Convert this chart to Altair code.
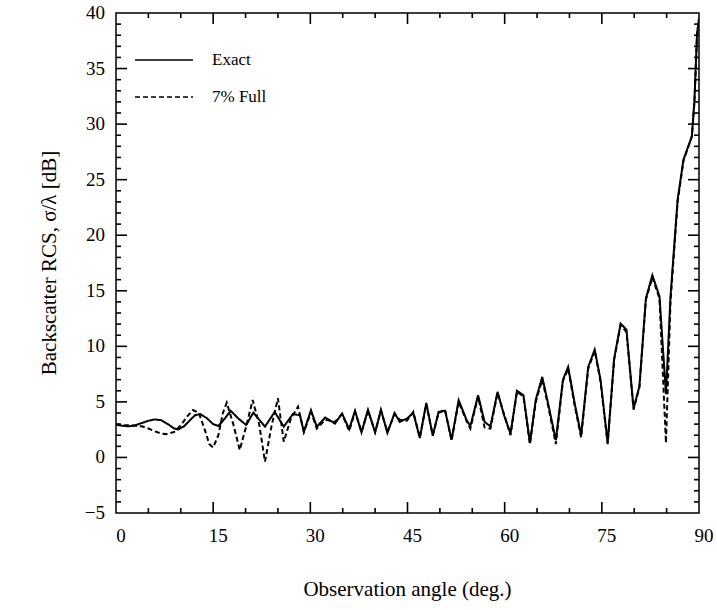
import altair as alt
import pandas as pd

# ---- data ----
exact_deg = [0, 1, 2, 3, 4, 5, 6, 7, 8, 9, 9.6, 10.5, 11.5, 12.2, 13, 14, 15, 15.8, 16.8, 17.7,
             18.9, 20.1, 21.2, 23, 24.5, 25.9, 27.3, 28.4, 29, 30.1, 31, 32.3, 33.8, 34.9, 36,
             36.9, 37.9, 38.9, 40, 40.9, 41.9, 43, 43.8, 44.9, 45.9, 46.9, 47.9, 48.9, 49.8,
             50.8, 51.8, 52.9, 54.1, 54.7, 55.9, 56.9, 57.8, 58.9, 59.9, 60.9, 61.9, 62.9,
             63.9, 64.8, 65.8, 66.8, 67.9, 69.0, 69.8, 70.8, 71.8, 72.9, 73.9, 74.8, 75.9,
             76.9, 77.9, 78.8, 79.9, 80.8, 81.8, 82.8, 83.9, 84.9, 85.6, 86.7, 87.6, 88.9,
             89.3, 89.5, 89.7, 90]
exact_val = [2.95, 2.85, 2.8, 2.9, 3.1, 3.3, 3.42, 3.35, 3.0, 2.6, 2.53, 2.8, 3.4, 3.8, 3.9,
             3.55, 3.0, 2.83, 3.5, 4.2, 3.5, 2.92, 4.03, 2.77, 4.1, 2.77, 3.9, 3.8, 2.3, 4.25,
             2.75, 3.6, 3.05, 3.95, 2.55, 4.2, 2.25, 4.3, 2.25, 4.3, 2.2, 4.0, 3.2, 3.5, 4.0,
             1.75, 4.9, 1.95, 4.1, 4.2, 1.6, 5.15, 3.4, 2.8, 5.6, 3.2, 2.8, 5.9, 3.8, 2.15,
             6.0, 5.6, 1.3, 5.2, 7.25, 4.6, 1.55, 7.0, 8.15, 4.9, 2.0, 8.15, 9.7, 7.0, 1.3,
             8.9, 12.05, 11.5, 4.4, 6.4, 14.3, 16.4, 14.5, 5.7, 14.5, 23.2, 26.8, 28.9,
             32.2, 35.2, 38.2, 39.5]

full_deg = [0, 1, 2, 3, 4, 5, 6, 7, 7.8, 9, 10, 11, 11.9, 12.8, 13.7, 14.4, 15.0, 15.8, 16.5,
            17.1, 18.1, 19.1, 20.1, 21.1, 22.1, 23.0, 24.0, 25.0, 25.9, 27, 28.1, 29, 30.1,
            31, 32.3, 33.8, 34.9, 36, 36.9, 37.9, 38.9, 40, 40.9, 41.9, 43, 43.8, 44.9, 45.9,
            46.9, 47.9, 48.9, 49.8, 50.8, 51.8, 52.9, 54.1, 54.7, 55.9, 56.9, 57.8, 58.9,
            59.9, 60.9, 61.9, 62.9, 63.9, 64.8, 65.8, 66.8, 67.9, 69, 69.8, 70.8, 71.8,
            72.9, 73.9, 74.8, 75.9, 76.9, 77.9, 78.8, 79.9, 80.8, 81.8, 82.8, 83.9, 84.9,
            85.6, 86.7, 87.6, 88.9, 89.3, 89.5, 89.7, 90]
full_val = [3.0, 2.9, 2.9, 2.85, 2.8, 2.6, 2.35, 2.15, 2.1, 2.3, 2.9, 3.7, 4.27, 4.0, 2.5,
            1.2, 0.9, 2.0, 4.0, 4.93, 3.0, 0.67, 2.8, 5.17, 3.0, -0.38, 2.8, 5.32, 1.42, 3.5,
            4.57, 2.3, 4.1, 2.6, 3.4, 3.2, 3.9, 2.4, 4.1, 2.3, 4.2, 2.3, 4.2, 2.3, 3.9, 3.4,
            3.3, 4.1, 1.8, 4.8, 2.0, 4.0, 4.3, 1.5, 5.0, 3.3, 2.6, 5.5, 2.7, 2.6, 5.8, 3.9,
            2.0, 5.9, 5.5, 1.2, 5.0, 7.0, 4.4, 1.2, 6.9, 8.0, 4.7, 1.8, 8.0, 9.6, 6.8, 1.2,
            8.8, 11.9, 11.3, 4.3, 6.3, 14.2, 16.2, 14.3, 1.3, 14.0, 23.0, 26.7, 28.9, 32.0,
            35.0, 38.0, 39.5]

series_names = ["Exact", "7% Full"]
x_major = [0, 15, 30, 45, 60, 75, 90]
x_minor = [5, 10, 20, 25, 35, 40, 50, 55, 65, 70, 80, 85]
y_major = [-5, 0, 5, 10, 15, 20, 25, 30, 35, 40]
y_minor = [v for v in range(-5, 41) if v % 5 != 0]
x_title = ["Observation angle (deg.)"]
y_title = ["Backscatter RCS, σ/λ [dB]"]

W, H = 583, 500
FONT = "Liberation Serif"
X0, X1, Y0, Y1 = 0, 90, -5, 40
XMAJ, XMIN = 11 * 90 / W, 5 * 90 / W
YMAJ, YMIN = 11 * 45 / H, 5 * 45 / H

df = pd.concat([
    pd.DataFrame({"deg": exact_deg, "val": exact_val, "series": series_names[0], "o": range(len(exact_deg))}),
    pd.DataFrame({"deg": full_deg, "val": full_val, "series": series_names[1], "o": range(len(full_deg))}),
])

# all inward tick segments in one table (data units), built from the tick arrays
rows = []
for t in x_major[1:-1]:
    rows += [(t, t, Y0, Y0 + YMAJ), (t, t, Y1, Y1 - YMAJ)]
for t in x_minor:
    rows += [(t, t, Y0, Y0 + YMIN), (t, t, Y1, Y1 - YMIN)]
for t in y_major[1:-1]:
    rows += [(X0, X0 + XMAJ, t, t), (X1, X1 - XMAJ, t, t)]
for t in y_minor:
    rows += [(X0, X0 + XMIN, t, t), (X1, X1 - XMIN, t, t)]
tick_df = pd.DataFrame(rows, columns=["xa", "xb", "ya", "yb"])

xs = alt.Scale(domain=[X0, X1], nice=False, zero=False)
ys = alt.Scale(domain=[Y0, Y1], nice=False, zero=False)

lines = alt.Chart(df).mark_line(strokeWidth=2.0, clip=True).encode(
    x=alt.X("deg:Q", scale=xs, axis=None),
    y=alt.Y("val:Q", scale=ys, axis=None),
    color=alt.Color("series:N", scale=alt.Scale(domain=series_names, range=["black", "black"]),
                    legend=alt.Legend(title=None)),
    strokeDash=alt.StrokeDash("series:N", scale=alt.Scale(domain=series_names, range=[[1, 0], [5, 3]]),
                              legend=alt.Legend(title=None)),
    order="o:Q",
)

ticks = alt.Chart(tick_df).mark_rule(color="black", strokeWidth=1.6).encode(
    x=alt.X("xa:Q", scale=xs, axis=None), x2="xb:Q",
    y=alt.Y("ya:Q", scale=ys, axis=None), y2="yb:Q")

xlabels = alt.Chart(pd.DataFrame({"t": x_major})).mark_text(
    font=FONT, fontSize=19, color="black", align="center", baseline="top", dx=5).encode(
    x=alt.X("t:Q", scale=xs, axis=None), y=alt.value(H + 14), text=alt.Text("t:Q"))

ylabels = alt.Chart(pd.DataFrame({"t": y_major})).mark_text(
    font=FONT, fontSize=19, color="black", align="right", baseline="middle", dx=-11).encode(
    y=alt.Y("t:Q", scale=ys, axis=None), x=alt.value(0), text=alt.Text("t:Q"))

xtitle = alt.Chart(pd.DataFrame({"s": x_title})).mark_text(
    font=FONT, fontSize=21, color="black", align="center", baseline="middle").encode(
    x=alt.value(W / 2), y=alt.value(H + 77), text="s:N")

ytitle = alt.Chart(pd.DataFrame({"s": y_title})).mark_text(
    font=FONT, fontSize=21, color="black", align="center", baseline="middle", angle=270).encode(
    x=alt.value(-66), y=alt.value(H / 2), text="s:N")

chart = alt.layer(lines, ticks, xlabels, ylabels, xtitle, ytitle).properties(
    width=W, height=H,
    padding={"left": 116, "top": 13, "right": 18, "bottom": 97},
    autosize=alt.AutoSizeParams(type="none"),
    background="white",
).configure_view(stroke="black", strokeWidth=1.5).configure_legend(
    orient="none", legendX=18, legendY=37, padding=0,
    symbolType="stroke", symbolSize=3364, symbolStrokeWidth=1.5, symbolStrokeColor="black",
    clipHeight=20, rowPadding=17, labelOffset=18,
    labelFont=FONT, labelFontSize=17, labelColor="black",
)

chart.save("out.html", embed_options={"renderer": "svg", "actions": False})
